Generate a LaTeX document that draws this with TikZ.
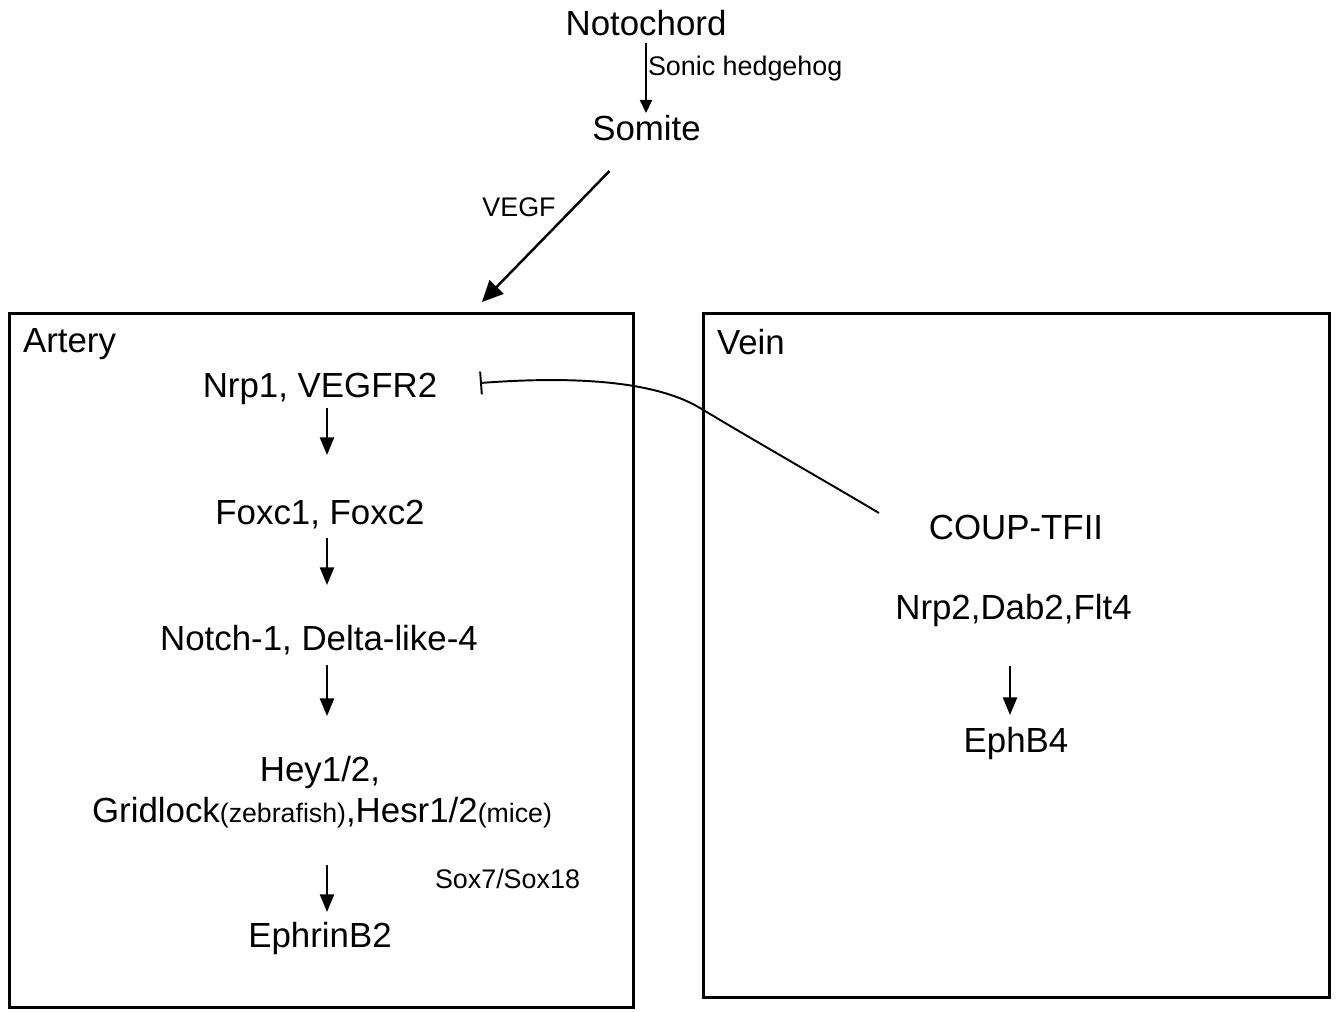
\documentclass[tikz,border=0pt]{standalone}
\usepackage{fontspec}
\setmainfont{Liberation Sans}
\usetikzlibrary{arrows.meta,calc}
\newcommand{\subtxt}[1]{{\fontsize{15.2pt}{18pt}\selectfont #1}}
\begin{document}
\begin{tikzpicture}[x=0.02cm,y=-0.02cm,
  big/.style={inner sep=0pt, outer sep=0pt, anchor=base, font=\fontsize{19.84pt}{24pt}\selectfont},
  small/.style={inner sep=0pt, outer sep=0pt, anchor=base, font=\fontsize{15.3pt}{18pt}\selectfont},
  box/.style={draw, line width=1.7pt, inner sep=0pt, outer sep=0pt, anchor=north west},
  arr/.style={-{Triangle[length=10pt,width=8pt]}, line width=1.1pt},
  thinarr/.style={-{Triangle[length=7.5pt,width=7pt]}, line width=0.8pt},
  bigarr/.style={-{Triangle[length=12pt,width=11pt]}, line width=1.4pt},
  inh/.style={{Bar[width=13pt]}-, line width=1.1pt}]
\useasboundingbox (0,0) rectangle (1337,1011);

% boxes
\node[box, minimum width=12.48cm, minimum height=13.89cm] (artery) at (9.5,313.5) {};
\node[box, minimum width=12.52cm, minimum height=13.69cm] (vein) at (703.5,313.5) {};

% top
\node[big] (noto) at (646,35) {Notochord};
\node[big] (somite) at (646.5,140) {Somite};
\draw[thinarr, shorten <=0.16cm, shorten >=0.54cm] (noto.base) -- (noto.base |- somite.base);
\node[small, anchor=base west] (shh) at (648,75.5) {Sonic hedgehog};
\draw[bigarr] ($(somite.base)+(-37,31)$) -- ($(artery.north)+(160.5,-11.5)$);
\node[small] (vegf) at (519,216.5) {VEGF};

% artery
\node[big, anchor=base west] (artlbl) at (23,352) {Artery};
\node[big] (n1) at (320,397.5) {Nrp1, VEGFR2};
\node[big] (n2) at (320,524.5) {Foxc1, Foxc2};
\node[big] (n3) at (319,650) {Notch-1, Delta-like-4};
\node[big] (n4) at (320,781) {Hey1/2,};
\node[big] (n5) at (322,822) {Gridlock\subtxt{(zebrafish)},Hesr1/2\subtxt{(mice)}};
\node[big] (n6) at (320,947) {EphrinB2};
\node[small, anchor=base west] (sox) at (435,888.5) {Sox7/Sox18};

\draw[arr, shorten <=0.21cm, shorten >=1.39cm] ([xshift=0.14cm]n1.base) -- ([xshift=0.14cm]n2.base);
\draw[arr, shorten <=0.27cm, shorten >=1.3cm] ([xshift=0.14cm]n2.base) -- ([xshift=0.14cm]n2.base |- n3.base);
\draw[arr, shorten <=0.3cm, shorten >=1.3cm] ([xshift=0.16cm]n3.base) -- ([xshift=0.14cm]n2.base |- n4.base);
\draw[arr, shorten <=0.86cm, shorten >=0.7cm] ([xshift=0.14cm]n2.base |- n5.base) -- ([xshift=0.14cm]n6.base);

% vein
\node[big, anchor=base west] (veinlbl) at (717,354) {Vein};
\node[big] (coup) at (1016,539) {COUP-TFII};
\node[big] (n8) at (1013.5,619) {Nrp2,Dab2,Flt4};
\node[big] (n9) at (1016,752) {EphB4};
\draw[arr, shorten <=0.94cm, shorten >=0.74cm] ([xshift=-0.07cm]n8.base) -- ([xshift=-0.12cm]n9.base);

% inhibition
\coordinate (inhA) at ($(n1.base)+(160,-14.5)$);
\coordinate (inhB) at ($(coup.base)+(-137,-26)$);
\draw[inh] (inhA) .. controls (560,377) and (650,378) .. (700,408) .. controls (760,444) and (820,478) .. (inhB);
\end{tikzpicture}
\end{document}
